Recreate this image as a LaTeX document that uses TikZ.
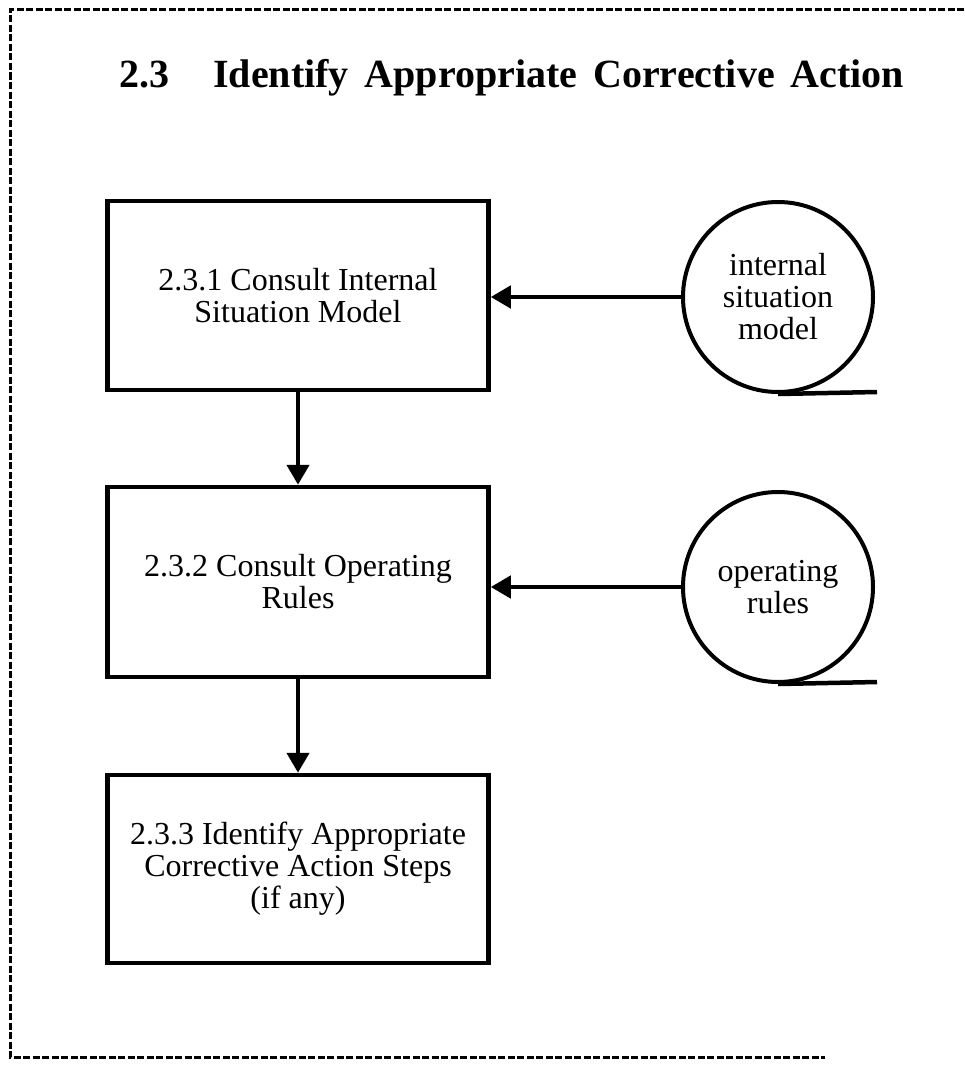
\documentclass[tikz,border=0pt]{standalone}
\usepackage{fontspec}
\setmainfont{Liberation Serif}
\usetikzlibrary{arrows.meta}
\begin{document}
\begin{tikzpicture}[x=1pt,y=-1pt,
  procbox/.style={draw,line width=4.5pt,minimum width=381pt,minimum height=189pt,
    inner sep=0pt,align=center,font=\fontsize{32}{32}\selectfont},
  store/.style={draw,circle,line width=4pt,minimum size=190pt,inner sep=0pt,
    align=center,font=\fontsize{32}{32}\selectfont},
  flow/.style={line width=4.5pt,-{Triangle[length=20pt,width=22pt]}},
  frame/.style={line width=3pt,dash pattern=on 7pt off 2.5pt}
]
\useasboundingbox (0,0) rectangle (964,1065);

% dashed outer frame, open on the right
\coordinate (fr1) at (964,10);
\coordinate (fr2) at (10,10);
\coordinate (fr3) at (10,1057);
\coordinate (fr4) at (825,1057);
\draw[frame] (fr1) -- (fr2) -- (fr3) -- (fr4);

% heading
\node[anchor=base west,inner sep=0pt,font=\fontsize{40}{40}\selectfont\bfseries] (title) at (119,88)
  {2.3\hspace{44pt}Identify\hspace{16pt}Appropriate\hspace{16pt}Corrective\hspace{16pt}Action};

% process boxes
\node[procbox] (b1) at (298,295.5) {2.3.1 Consult Internal\\Situation Model};
\node[procbox,minimum height=190pt] (b2) at (298,582) {2.3.2 Consult Operating\\Rules};
\node[procbox,minimum height=188pt] (b3) at (298,869) {2.3.3 Identify Appropriate\\Corrective Action Steps\\(if any)};

% data stores
\node[store] (c1) at (778,297) {internal\\situation\\model};
\node[store] (c2) at (778,587) {operating\\rules};
\coordinate (t1) at (877,392);
\coordinate (t2) at (877,682);
\draw[line width=4.5pt] (c1.south) -- (t1);
\draw[line width=4.5pt] (c2.south) -- (t2);

% flows
\draw[flow] (b1) -- (b2);
\draw[flow] (b2) -- (b3);
\draw[flow] (c1.west) -- (c1.west -| b1.east);
\draw[flow] (c2.west) -- (c2.west -| b2.east);
\end{tikzpicture}
\end{document}
